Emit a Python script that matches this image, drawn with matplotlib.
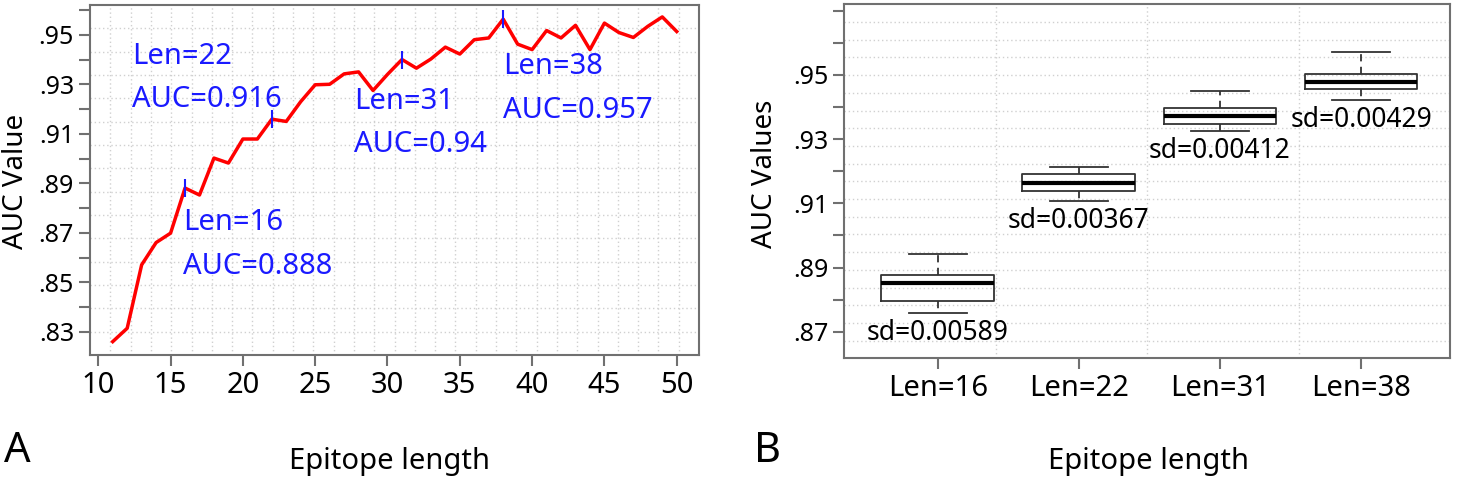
#!/usr/bin/env python3
# -*- coding: utf-8 -*-

import matplotlib
matplotlib.use('Agg')
import matplotlib.pyplot as plt
import numpy as np

plt.rcParams['font.family'] = ['Noto Sans', 'DejaVu Sans']

# panel A: AUC against epitope length
lengths = list(range(11, 51))
auc = [0.8261, 0.8315, 0.8571, 0.8661, 0.8699, 0.8881, 0.8853, 0.9002, 0.8982, 0.9079,
       0.9079, 0.9159, 0.9150, 0.9230, 0.9298, 0.9300, 0.9342, 0.9350, 0.9275, 0.9340,
       0.9400, 0.9365, 0.9402, 0.9450, 0.9422, 0.9480, 0.9487, 0.9563, 0.9462, 0.9440,
       0.9517, 0.9487, 0.9538, 0.9440, 0.9547, 0.9509, 0.9489, 0.9534, 0.9572, 0.9513]
marked_len = [16, 22, 31, 38]
marked_auc = ['0.888', '0.916', '0.94', '0.957']

# panel B: box summaries for the marked lengths
box_labels = ['Len=16', 'Len=22', 'Len=31', 'Len=38']
whisk_lo = [0.8758, 0.9107, 0.9325, 0.9422]
q1 = [0.8795, 0.9138, 0.9346, 0.9456]
med = [0.8851, 0.9164, 0.9372, 0.9479]
q3 = [0.8877, 0.9190, 0.9396, 0.9503]
whisk_hi = [0.8942, 0.9214, 0.9450, 0.9570]
sd_text = ['sd=0.00589', 'sd=0.00367', 'sd=0.00412', 'sd=0.00429']

BLUE = '#1a1aff'
SPINE = '#707070'
GRID = '#d0d0d0'


def r_style(ax, xlim, ylim, nx, ny):
    ax.set_xlim(*xlim)
    ax.set_ylim(*ylim)
    for s in ax.spines.values():
        s.set_color(SPINE)
        s.set_linewidth(1.5)
    # R's grid(nx, ny): equally spaced dotted lines
    for gx in np.linspace(xlim[0], xlim[1], nx + 1)[1:-1]:
        ax.axvline(gx, color=GRID, lw=1, ls=(0, (1, 2)), zorder=0)
    for gy in np.linspace(ylim[0], ylim[1], ny + 1)[1:-1]:
        ax.axhline(gy, color=GRID, lw=1, ls=(0, (1, 2)), zorder=0)
    ax.tick_params(direction='out', length=8, width=1.5, color=SPINE,
                   labelcolor='black')


def y_ticks(ax, lo, hi, labelled):
    ticks = np.round(np.arange(lo, hi + 0.0001, 0.01), 2)
    labels = [('%.2f' % t).lstrip('0') if round(t, 2) in labelled else ''
              for t in ticks]
    ax.set_yticks(ticks)
    ax.set_yticklabels(labels, fontsize=18)


fig = plt.figure(figsize=(14.59, 4.83), dpi=100)

# ---------------- A
axA = fig.add_axes([0.0617, 0.265, 0.4174, 0.7246])
r_style(axA, (9.43, 51.54), (0.8207, 0.962), 30, 15)
axA.plot(lengths, auc, color='red', lw=2.5, zorder=3)
marked_y = [auc[lengths.index(L)] for L in marked_len]
axA.plot(marked_len, marked_y, ls='none', marker='|', ms=13, mew=1.5,
         color=BLUE, zorder=4)
axA.set_xticks(range(10, 51, 5))
axA.set_xticklabels([str(v) for v in range(10, 51, 5)], fontsize=21)
y_ticks(axA, 0.83, 0.96, [0.83, 0.85, 0.87, 0.89, 0.91, 0.93, 0.95])

# text anchors for the annotations: (left x, y of first line, y of second line)
ann_pos = [(15.86, 0.8741, 0.8564), (12.35, 0.9411, 0.9237),
           (27.7, 0.9229, 0.9056), (38.0, 0.9372, 0.9195)]
for L, a, (tx, ty1, ty2) in zip(marked_len, marked_auc, ann_pos):
    axA.text(tx, ty1, 'Len=%d' % L, color=BLUE, fontsize=21,
             ha='left', va='center')
    axA.text(tx, ty2, 'AUC=%s' % a, color=BLUE, fontsize=21,
             ha='left', va='center')

# ---------------- B
axB = fig.add_axes([0.5787, 0.258, 0.4151, 0.733])
r_style(axB, (0.338, 4.63), (0.8617, 0.972), 4, 20)
stats = [dict(whislo=lo, q1=a, med=m, q3=b, whishi=hi, fliers=[])
         for lo, a, m, b, hi in zip(whisk_lo, q1, med, q3, whisk_hi)]
axB.bxp(stats, positions=[1, 2, 3, 4], widths=0.8, showfliers=False,
        boxprops=dict(color='#333333', lw=1.3),
        whiskerprops=dict(color='#333333', lw=1.3, ls=(0, (4, 3))),
        capprops=dict(color='#333333', lw=1.3),
        medianprops=dict(color='black', lw=3),
        capwidths=0.41)
axB.set_xlim(0.338, 4.63)
axB.set_xticks([1, 2, 3, 4])
axB.set_xticklabels(box_labels, fontsize=21)
y_ticks(axB, 0.87, 0.97, [0.87, 0.89, 0.91, 0.93, 0.95])
for i, (s, lo) in enumerate(zip(sd_text, whisk_lo)):
    axB.text(i + 1, lo - 0.0062, s, fontsize=19, ha='center', va='center')

# axis titles and panel letters
fig.text(0.011, 0.625, 'AUC Value', rotation=90, fontsize=20,
         ha='center', va='center')
fig.text(0.524, 0.64, 'AUC Values', rotation=90, fontsize=20,
         ha='center', va='center')
fig.text(0.267, 0.045, 'Epitope length', fontsize=21, ha='center', va='center')
fig.text(0.787, 0.045, 'Epitope length', fontsize=21, ha='center', va='center')
fig.text(0.003, 0.066, 'A', fontsize=30, ha='left', va='center')
fig.text(0.517, 0.066, 'B', fontsize=30, ha='left', va='center')

fig.savefig('out.png', dpi=100)
